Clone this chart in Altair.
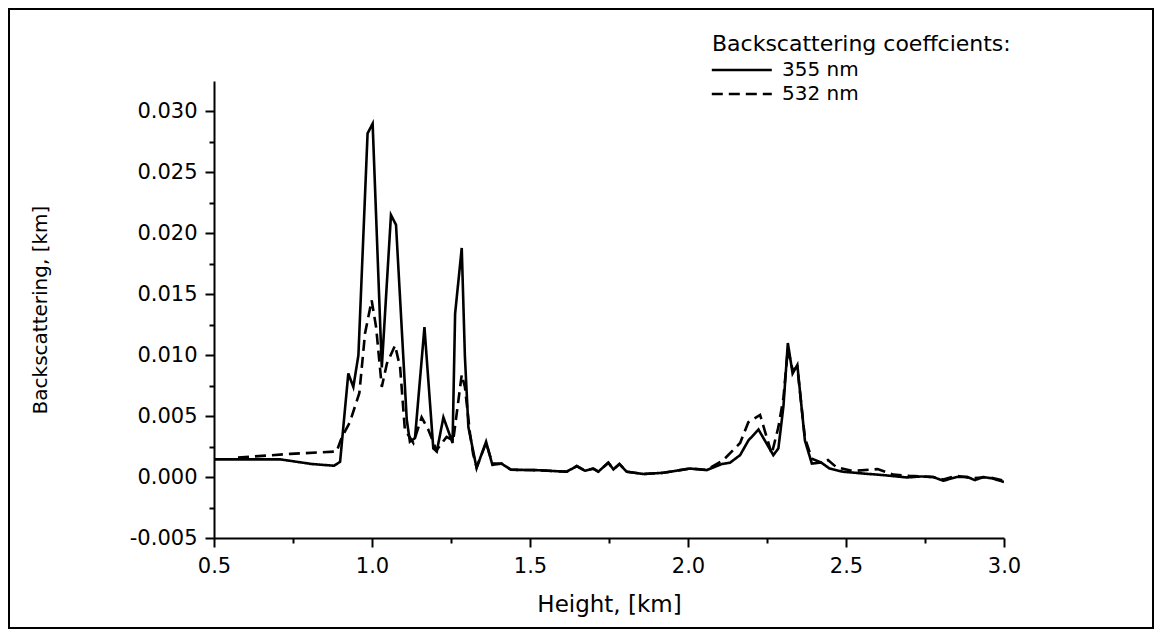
import altair as alt
import pandas as pd

# 355 nm backscattering coefficient
h355 = [0.50, 0.60, 0.71, 0.81, 0.88, 0.899, 0.925, 0.941, 0.957, 0.986, 1.002, 1.031, 1.060, 1.076,
        1.110, 1.120, 1.136, 1.166, 1.194, 1.205, 1.226, 1.255, 1.263, 1.284, 1.294, 1.305, 1.331,
        1.361, 1.381, 1.410, 1.440, 1.520, 1.616, 1.648, 1.674, 1.700, 1.716, 1.748, 1.764, 1.783,
        1.806, 1.859, 1.922, 1.975, 2.006, 2.059, 2.107, 2.133, 2.165, 2.191, 2.223, 2.270, 2.286,
        2.302, 2.316, 2.331, 2.346, 2.370, 2.392, 2.421, 2.448, 2.490, 2.550, 2.618, 2.692, 2.740,
        2.776, 2.808, 2.850, 2.882, 2.908, 2.934, 2.961, 2.987, 3.000]
b355 = [0.00145, 0.00145, 0.00145, 0.00107, 0.00093, 0.00125, 0.0085, 0.0074, 0.0100, 0.0282, 0.0290,
        0.0090, 0.0215, 0.0207, 0.0047, 0.0029, 0.0032, 0.0123, 0.00235, 0.0021, 0.0049, 0.0028,
        0.0134, 0.0188, 0.0099, 0.0041, 0.00074, 0.0029, 0.0010, 0.0011, 0.0006, 0.00057, 0.00044,
        0.0009, 0.00052, 0.0007, 0.00044, 0.00118, 0.00063, 0.00107, 0.00044, 0.00025, 0.00035,
        0.00057, 0.0007, 0.00057, 0.00107, 0.00118, 0.0018, 0.0030, 0.0039, 0.0018, 0.00235, 0.0058,
        0.0110, 0.0085, 0.0092, 0.0030, 0.0011, 0.0012, 0.0007, 0.00044, 0.0003, 0.00016, -0.00003,
        0.00005, 0.0, -0.0003, 0.0, 0.00003, -0.00025, 0.0, -0.0001, -0.0003, -0.0004]

# 532 nm backscattering coefficient
h532 = [0.576, 0.741, 0.888, 0.905, 0.930, 0.960, 0.978, 0.999, 1.013, 1.031, 1.047, 1.073, 1.089,
        1.104, 1.131, 1.157, 1.178, 1.204, 1.236, 1.257, 1.284, 1.294, 1.310, 1.320, 1.331, 1.361,
        1.381, 1.410, 1.440, 1.520, 1.616, 1.648, 1.674, 1.700, 1.716, 1.748, 1.764, 1.783, 1.806,
        1.859, 1.922, 1.975, 2.006, 2.059, 2.112, 2.165, 2.191, 2.228, 2.265, 2.286, 2.302, 2.316,
        2.331, 2.346, 2.370, 2.392, 2.421, 2.443, 2.470, 2.520, 2.600, 2.650, 2.700, 2.776, 2.808,
        2.850, 2.900, 2.950, 3.000]
b532 = [0.0016, 0.0019, 0.0021, 0.0033, 0.0045, 0.0069, 0.0118, 0.0145, 0.0123, 0.0074, 0.0093,
        0.0108, 0.0090, 0.0039, 0.0028, 0.0049, 0.0039, 0.0022, 0.0033, 0.0030, 0.0084, 0.0074,
        0.0036, 0.0019, 0.0008, 0.0028, 0.0011, 0.0011, 0.0006, 0.00057, 0.00044, 0.0009, 0.00052,
        0.0007, 0.00044, 0.00118, 0.00063, 0.00107, 0.00044, 0.00025, 0.00035, 0.00057, 0.0007,
        0.0006, 0.0014, 0.0028, 0.0045, 0.0051, 0.0019, 0.0041, 0.0065, 0.0105, 0.0088, 0.0090,
        0.0032, 0.0015, 0.0012, 0.0014, 0.0008, 0.0005, 0.00065, 0.0002, 0.0001, 0.0, -0.0002,
        0.0001, -0.0001, 0.0, -0.0003]

series_names = ["355 nm", "532 nm"]
x_ticks = [round(0.5 + 0.25 * i, 3) for i in range(11)]
y_ticks = [round(-0.005 + 0.0025 * i, 4) for i in range(15)]

df = pd.concat([
    pd.DataFrame({"h": h355, "b": b355, "s": series_names[0]}),
    pd.DataFrame({"h": h532, "b": b532, "s": series_names[1]}),
], ignore_index=True)

W, H = 790, 457
FONT = "DejaVu Sans"

y_major = "abs(round(datum.value*400)) % 2 == 0"
x_major = "abs(round(datum.value*4)) % 2 == 0"

lines = alt.Chart(df).mark_line(color="black", strokeWidth=2.6, clip=True).encode(
    x=alt.X("h:Q",
            scale=alt.Scale(domain=[0.5, 3.0], nice=False, zero=False),
            axis=alt.Axis(values=x_ticks, title="Height, [km]", grid=False,
                          labelExpr=x_major + " ? format(datum.value, '.1f') : ''",
                          tickSize={"condition": {"test": x_major, "value": 9}, "value": 5},
                          labelFlush=False, labelOverlap=False, labelPadding=8,
                          titleX=W / 2, titleY=66, titleBaseline="middle", titleAlign="center")),
    y=alt.Y("b:Q",
            scale=alt.Scale(domain=[-0.005, 0.0325], nice=False, zero=False),
            axis=alt.Axis(values=y_ticks, title="Backscattering, [km]", grid=False,
                          labelExpr=y_major + " ? replace(format(datum.value, '.3f'), '\u2212', '-') : ''",
                          tickSize={"condition": {"test": y_major, "value": 9}, "value": 5},
                          labelFlush=False, labelOverlap=False, labelPadding=8,
                          titleX=-174, titleY=H / 2, titleBaseline="middle", titleAlign="center",
                          titleAngle=270, titleFontSize=20)),
    strokeDash=alt.StrokeDash("s:N",
                              scale=alt.Scale(domain=series_names, range=[[1, 0], [11, 6]]),
                              legend=alt.Legend(title="Backscattering coeffcients:", orient="none",
                                                legendX=498, legendY=-47,
                                                symbolType="M-1.7,0H8.3",
                                                symbolSize=144, symbolStrokeWidth=2.4,
                                                symbolStrokeColor="black", labelFontSize=20,
                                                labelFont=FONT, titleFont=FONT, titleFontSize=22,
                                                titleFontWeight="normal", titleLimit=500,
                                                titlePadding=4, rowPadding=4, labelOffset=50,
                                                labelColor="black", titleColor="black")),
    detail="s:N",
)

border = alt.Chart(pd.DataFrame({"a": [0]})).mark_rect(
    fill="transparent", stroke="black", strokeWidth=2
).encode(
    x=alt.value(-205), x2=alt.value(W + 149),
    y=alt.value(-72), y2=alt.value(H + 90),
)

chart = alt.layer(border, lines).properties(
    width=W, height=H,
    autosize=alt.AutoSizeParams(type="none"),
    padding={"left": 206, "top": 73, "right": 150, "bottom": 91},
).configure_view(strokeWidth=0).configure_axis(
    domainColor="black", domainWidth=2, tickColor="black", tickWidth=2,
    labelFont=FONT, labelFontSize=21, labelColor="black",
    titleFont=FONT, titleFontSize=23, titleFontWeight="normal", titleColor="black",
)

chart.save("out.html", embed_options={"renderer": "svg", "actions": False})
